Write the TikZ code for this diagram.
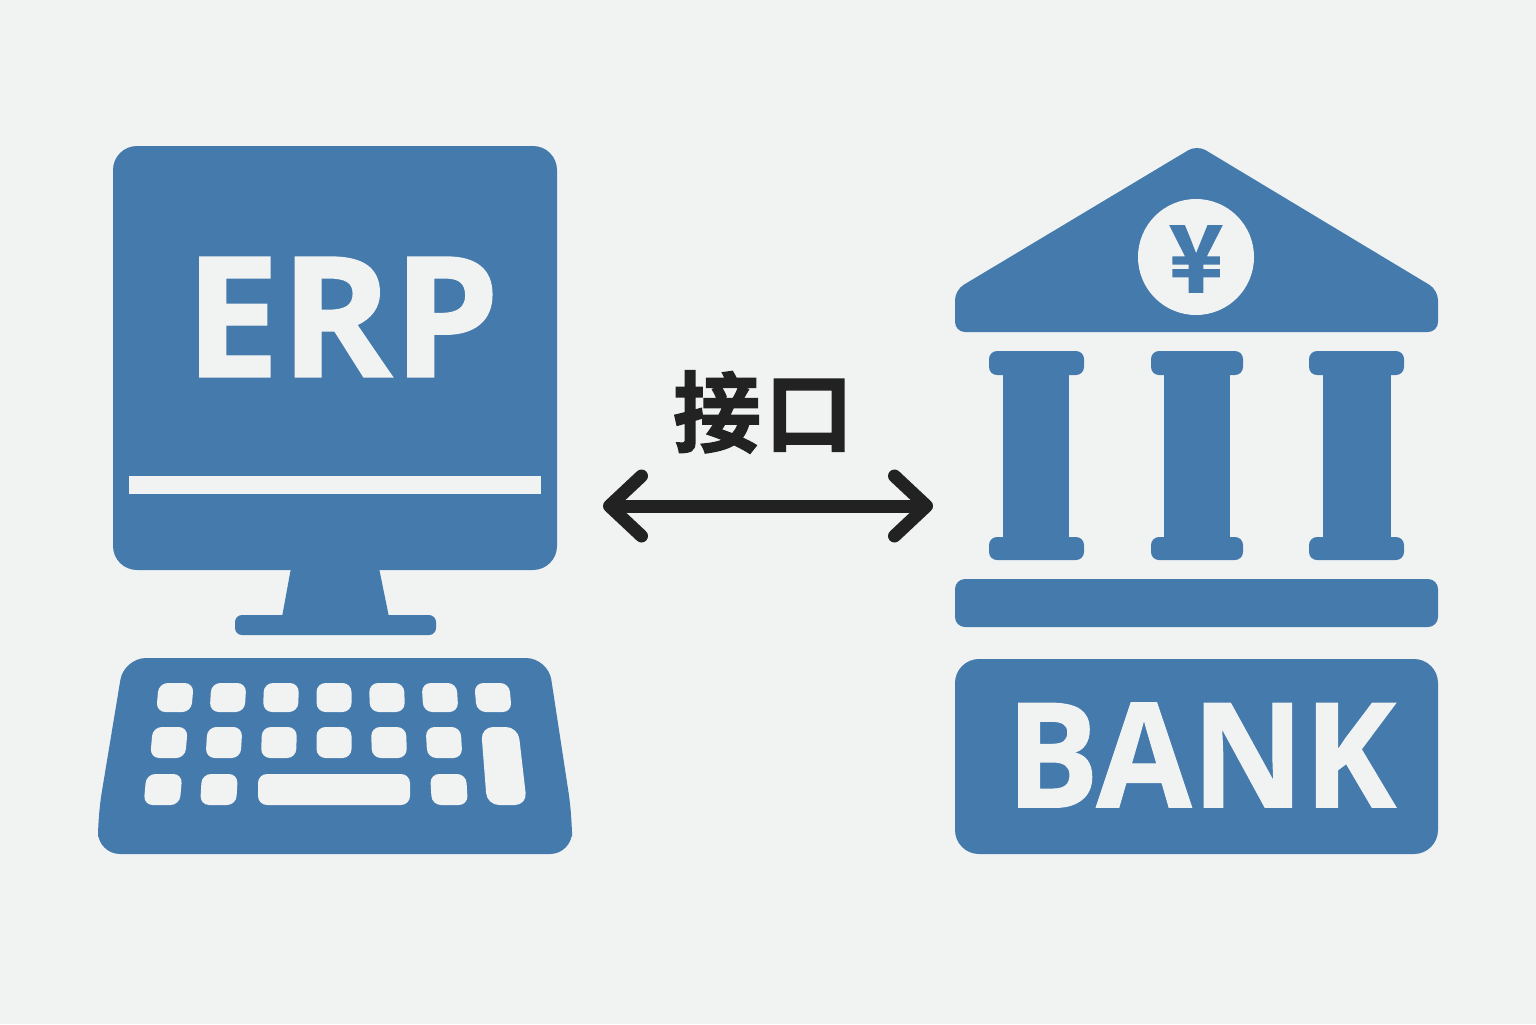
\documentclass[tikz,border=0pt]{standalone}
\usepackage{fontspec}
\usepackage{xcolor}
\usepackage{tikz}
\usetikzlibrary{arrows.meta}
\newfontfamily\logofont{Open Sans Bold}[FakeBold=0.8]
\newfontfamily\cjk{Noto Sans CJK SC Bold}[FakeBold=1.6]
\definecolor{iconblue}{HTML}{457AAD}
\definecolor{paper}{HTML}{F1F3F3}
\definecolor{inkdark}{HTML}{222222}
\tikzset{
  panel/.style={fill=iconblue,rounded corners=#1},
  panel/.default=5pt,
  hole/.style={fill=paper,rounded corners=#1},
  hole/.default=4.5pt,
  logotext/.style={text=paper,inner sep=0pt},
  linkarrow/.style={draw=inkdark,line width=6.5pt,>={Straight Barb[round,length=16pt,width=30pt]},<->},
}
\newcommand{\keycap}[4]{% centre x, centre y, width, height
  \pgfmathsetmacro{\sk}{(334-#1)*0.008}
  \fill[hole] ({#1-#3/2+\sk},{#2-#4/2}) -- ({#1+#3/2+\sk},{#2-#4/2})
    -- ({#1+#3/2-\sk},{#2+#4/2}) -- ({#1-#3/2-\sk},{#2+#4/2}) -- cycle;
}
\begin{document}
\begin{tikzpicture}[x=0.5pt,y=-0.5pt]
\fill[paper] (0,0) rectangle (1536,1024);
\useasboundingbox (0,0) rectangle (1536,1024);
% monitor
\fill[panel=12pt] (113,146) rectangle (557,570);
\fill[paper] (129,476) rectangle (541,494);
\fill[iconblue] (291,568) -- (379,568) -- (389,617) -- (282,617) -- cycle;
\fill[panel=3.5pt] (235,615) rectangle (436,635);
\node[logotext,font=\logofont\fontsize{84}{84}\selectfont] (erp) at (342,317) {\scalebox{1.015}[1]{ERP}};
% keyboard
\fill[panel=11pt] (124,658) -- (548,658) -- (572,815) -- (572,854) -- (98,854) -- (98,815) -- cycle;
\foreach \x in {175,228,281,334,387,440,493} {
  \keycap{\x}{697.5}{35}{29}
}
\foreach \x in {169,224,279,334,389,444} {
  \keycap{\x}{742.5}{35}{31}
}
\foreach \x in {163,219,449} {
  \keycap{\x}{789.5}{36}{31}
}
\fill[hole] (258,774) rectangle (410,805);
\fill[hole=6pt] (481,727) -- (518,727) -- (527,805) -- (487,805) -- cycle;
% interface
\node[inner sep=0pt,text=inkdark,font=\cjk\fontsize{44}{44}\selectfont] (iface) at (763,412) {接\hspace{2pt}口};
\coordinate (ifaceL) at (603,506);
\coordinate (ifaceR) at (933,506);
\draw[linkarrow] (ifaceL) -- (ifaceR);
% bank
\fill[panel=5pt] (1197,145) -- (1438,290) -- (1438,332) -- (955,332) -- (955,290) -- cycle;
\fill[paper] (1196,257) circle (58);
\node[inner sep=0pt,text=iconblue,font=\cjk\fontsize{46}{46}\selectfont] (yen) at (1196,259) {¥};
\foreach \capl/\capr/\shl/\shr in {989/1084/1003/1069,1151/1243/1164/1230,1309/1404/1323/1391} {
  \fill[panel=4pt] (\capl,351) rectangle (\capr,375);
  \fill[iconblue] (\shl,370) rectangle (\shr,542);
  \fill[panel=4pt] (\capl,537) rectangle (\capr,560);
}
\fill[panel] (955,579) rectangle (1438,627);
\fill[panel=12pt] (955,659) rectangle (1438,854);
\node[logotext,font=\logofont\fontsize{73}{73}\selectfont] (bank) at (1201,755) {\scalebox{.947}[1]{BANK}};
\end{tikzpicture}
\end{document}
